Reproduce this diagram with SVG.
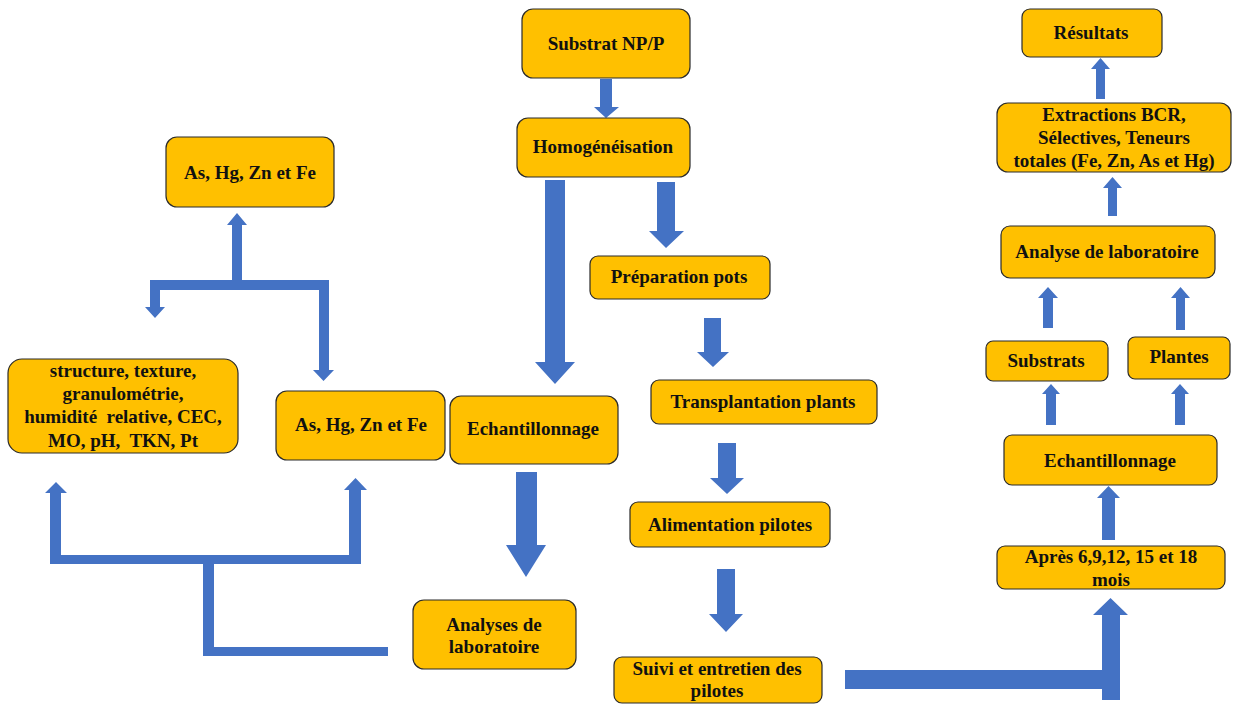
<svg xmlns="http://www.w3.org/2000/svg" width="1234" height="704" viewBox="0 0 1234 704">
<style>
.box{fill:#FFC000;stroke:#2b2b2b;stroke-width:1.2}
.t{font-family:'Liberation Serif','DejaVu Serif',serif;font-weight:700;font-size:19px;fill:#111;text-anchor:middle}
.arr{fill:#4472C4}
</style>
<rect width="1234" height="704" fill="#fff"/>
<g id="connectors">
<path class="arr" d="M600,79 H612 V107 H619 L606,118 L594,107 H600 Z"/>
<path class="arr" d="M545,180 H565 V362 H575 L555,384 L535,362 H545 Z"/>
<path class="arr" d="M657,182 H675 V231 H684 L666,248 L649,231 H657 Z"/>
<path class="arr" d="M704,318 H721 V352 H729 L713,367 L697,352 H704 Z"/>
<path class="arr" d="M718,443 H736 V478 H744 L727,494 L710,478 H718 Z"/>
<path class="arr" d="M717,569 H735 V614 H743 L726,632 L709,614 H717 Z"/>
<path class="arr" d="M516,472 H537 V545 H546 L526,577 L506,545 H516 Z"/>
<path class="arr" d="M845,670 H1102 V615 H1093 L1110.5,598 L1128,615 H1120 V700 H1102 V689 H845 Z"/>
<path class="arr" d="M1102,540 V498 H1097 L1108.5,486 L1120,498 H1115 V540 Z"/>
<path class="arr" d="M1046,425 V394 H1042 L1051,384 L1060,394 H1056 V425 Z"/>
<path class="arr" d="M1175,425 V394 H1171 L1180,384 L1189,394 H1185 V425 Z"/>
<path class="arr" d="M1043,328 V298 H1038 L1048,287 L1058,298 H1053 V328 Z"/>
<path class="arr" d="M1176,330 V298 H1171 L1180.5,287 L1190,298 H1185 V330 Z"/>
<path class="arr" d="M1108,216 V188 H1103 L1112.5,177 L1122,188 H1117 V216 Z"/>
<path class="arr" d="M1096,99 V69 H1091 L1100.5,58 L1110,69 H1105 V99 Z"/>
<path class="arr" d="M232,281 V225 H227 L237,213 L247,225 H242 V281 Z"/>
<path class="arr" d="M150,280 H329 V370 H334 L323.5,381 L313,370 H319 V290 H160 V307 H165 L155,318 L145,307 H150 Z"/>
<path class="arr" d="M50,564 V493 H45 L56,482 L67,493 H61 V555 H349 V490 H344 L355.5,478 L367,490 H361 V564 H214 V647 H388 V656 H203 V564 Z"/>
</g>
<g id="substrat"><rect class="box" x="522" y="9" width="168" height="69" rx="11"/><text class="t" x="606" y="50">Substrat NP/P</text></g>
<g id="homogeneisation"><rect class="box" x="517" y="118" width="173" height="59" rx="11"/><text class="t" x="603" y="153">Homogénéisation</text></g>
<g id="as-top"><rect class="box" x="166" y="137" width="168" height="70" rx="11"/><text class="t" x="250" y="179">As, Hg, Zn et Fe</text></g>
<g id="structure"><rect class="box" x="8" y="359" width="230" height="94" rx="14"/>
<text class="t" x="123" y="377">structure, texture,</text>
<text class="t" x="123" y="400">granulométrie,</text>
<text class="t" x="123" y="423" xml:space="preserve">humidité  relative, CEC,</text>
<text class="t" x="123" y="447" xml:space="preserve">MO, pH,  TKN, Pt</text></g>
<g id="as-mid"><rect class="box" x="276" y="391" width="169" height="69" rx="11"/><text class="t" x="361" y="431">As, Hg, Zn et Fe</text></g>
<g id="echantillonnage-center"><rect class="box" x="450" y="396" width="168" height="68" rx="11"/><text class="t" x="533" y="435">Echantillonnage</text></g>
<g id="analyses"><rect class="box" x="413" y="600" width="163" height="69" rx="11"/>
<text class="t" x="494" y="631">Analyses de</text><text class="t" x="494" y="653">laboratoire</text></g>
<g id="preparation"><rect class="box" x="590" y="256" width="180" height="43" rx="8"/><text class="t" x="679" y="283">Préparation pots</text></g>
<g id="transplantation"><rect class="box" x="651" y="380" width="226" height="44" rx="8"/><text class="t" x="763" y="408">Transplantation plants</text></g>
<g id="alimentation"><rect class="box" x="630" y="502" width="200" height="45" rx="8"/><text class="t" x="730" y="531">Alimentation pilotes</text></g>
<g id="suivi"><rect class="box" x="614" y="657" width="208" height="46" rx="8"/>
<text class="t" x="717" y="675">Suivi et entretien des</text><text class="t" x="717" y="697">pilotes</text></g>
<g id="resultats"><rect class="box" x="1022" y="9" width="140" height="48" rx="8"/><text class="t" x="1091" y="39">Résultats</text></g>
<g id="extractions"><rect class="box" x="997" y="103" width="234" height="69" rx="11"/>
<text class="t" x="1114" y="121">Extractions BCR,</text>
<text class="t" x="1114" y="144">Sélectives, Teneurs</text>
<text class="t" x="1114" y="167">totales (Fe, Zn, As et Hg)</text></g>
<g id="analyse-labo"><rect class="box" x="1001" y="226" width="214" height="52" rx="9"/><text class="t" x="1107" y="258">Analyse de laboratoire</text></g>
<g id="substrats"><rect class="box" x="986" y="341" width="122" height="40" rx="7"/><text class="t" x="1046" y="367">Substrats</text></g>
<g id="plantes"><rect class="box" x="1128" y="337" width="102" height="42" rx="7"/><text class="t" x="1179" y="363">Plantes</text></g>
<g id="echantillonnage-right"><rect class="box" x="1004" y="435" width="213" height="50" rx="8"/><text class="t" x="1110" y="467">Echantillonnage</text></g>
<g id="apres"><rect class="box" x="997" y="546" width="228" height="43" rx="8"/>
<text class="t" x="1111" y="563">Après 6,9,12, 15 et 18</text><text class="t" x="1111" y="586">mois</text></g>
</svg>
